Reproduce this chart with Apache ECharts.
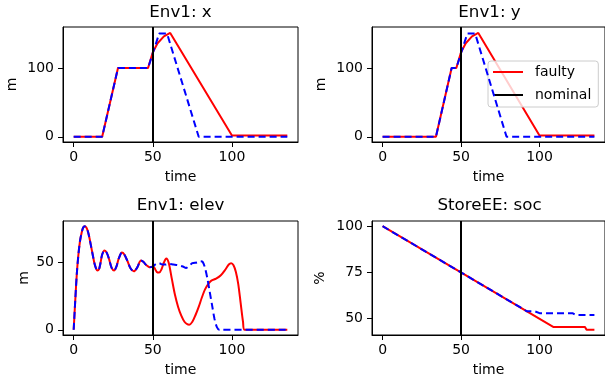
<!DOCTYPE html>
<html>
<head>
<meta charset="utf-8">
<script src="https://cdn.jsdelivr.net/npm/echarts@6/dist/echarts.min.js"></script>
<style>
  html, body { margin: 0; padding: 0; background: #fff; }
  #chart { width: 605px; height: 381px; }
</style>
</head>
<body>
<div id="chart"></div>
<script>
// fault injected at this time
const faultTime = [50];

const xTicks = [0, 50, 100];

// Env1: x
const xFaulty = [[0, 0], [18, 0], [28, 100], [47, 100], [50, 123], [53, 136], [57, 146], [61, 151], [100, 2], [135, 2]];
const xNominal = [[0, 0], [18, 0], [28, 100], [47, 100], [54, 150], [59, 150], [79, 0], [135, 0]];

// Env1: y
const yFaulty = [[0, 0], [34, 0], [44, 100], [47, 100], [50, 123], [53, 136], [57, 146], [61, 151], [100, 2], [135, 2]];
const yNominal = [[0, 0], [34, 0], [44, 100], [47, 100], [54, 150], [59, 150], [79, 0], [135, 0]];

// Env1: elev (shared until the fault)
const elevShared = [[0, 0], [1, 22], [2, 42], [3, 56], [4, 66], [5, 72], [6, 76], [7, 77], [8, 76], [9, 73], [10, 68],
  [11, 62], [12, 56], [13, 50], [14, 46], [15, 44], [16, 45], [17, 50], [18, 56], [19.5, 59], [21, 57], [22.5, 52],
  [24, 46], [25.5, 44], [27, 47], [28.5, 53], [30.5, 57.5], [32, 56], [34, 51], [36, 45.5], [38, 43.5], [40, 46],
  [42.5, 51.5], [44, 50.5], [46, 48], [48, 46.5], [50, 47]];
const elevFaultyTail = [[51, 46], [52.5, 43], [54, 42.5], [55.5, 45], [57, 50], [58.5, 53], [60, 50], [62, 38], [64, 26],
  [66, 17], [68, 10.5], [70, 6], [72, 4], [73, 3.8], [75, 6], [77, 11], [79, 17], [81, 24], [83, 30], [85, 34],
  [87, 36.5], [90, 38], [93, 40.5], [96, 45], [98, 48.5], [99.5, 49.5], [101, 48], [102.5, 43], [104, 34],
  [105.5, 20], [107, 6], [108, 0], [135, 0]];
const elevNominalTail = [[52, 49], [54, 49.5], [56, 48.5], [58, 48.5], [60, 49], [63, 48.5], [66, 48], [69, 47], [71, 46],
  [73, 47.5], [75, 49.5], [78, 50], [80, 51], [81.5, 50.5], [83, 46], [84.5, 38], [86, 28], [87.5, 18], [89, 8],
  [90.5, 2], [92, 0], [135, 0]];

// StoreEE: soc
const socFaulty = [[0, 100], [109, 45.5], [129, 45.5], [130, 44], [135, 44]];
const socNominal = [[0, 100], [92, 54], [97, 54], [100, 53], [121, 53], [123, 52], [135, 52]];

const titles = ['Env1: x', 'Env1: y', 'Env1: elev', 'StoreEE: soc'];
const units = ['m', 'm', 'm', '%'];
const yTicks = [[0, 100], [0, 100], [0, 50], [50, 75, 100]];
const yRanges = [[-7.6, 159.6], [-7.6, 159.6], [-3.85, 80.85], [41.2, 102.8]];
const faultyData = [xFaulty, yFaulty, elevShared.concat(elevFaultyTail), socFaulty];
const nominalData = [xNominal, yNominal, elevShared.concat(elevNominalTail), socNominal];

const font = 'DejaVu Sans';
const grids = [
  { left: 63, top: 27, width: 235, height: 115 },
  { left: 372, top: 27, width: 235, height: 115 },
  { left: 63, top: 221, width: 235, height: 114 },
  { left: 372, top: 221, width: 235, height: 114 }
];
const nameGaps = [44, 44, 32, 45];
const titleTops = [4, 4, 197, 197];

const chart = echarts.init(document.getElementById('chart'), null, { renderer: 'canvas' });

const axisCommon = {
  axisLine: { show: true, onZero: false, lineStyle: { color: '#000', width: 1 } },
  axisTick: { show: true, length: 5, lineStyle: { color: '#000', width: 1 } },
  axisLabel: { color: '#000', fontFamily: font, fontSize: 14 },
  splitLine: { show: false }
};

chart.setOption({
  animation: false,
  backgroundColor: '#fff',
  title: titles.map((t, i) => ({
    text: t,
    left: grids[i].left + 117.5,
    textAlign: 'center',
    top: titleTops[i],
    padding: 0,
    textStyle: { fontFamily: font, fontSize: 16.7, fontWeight: 'normal', color: '#000' }
  })),
  legend: {
    data: [
      { name: 'faulty', icon: 'rect' },
      { name: 'nominal', icon: 'rect' }
    ],
    orient: 'vertical',
    left: 488,
    top: 61,
    padding: [4, 7, 5, 5],
    itemGap: 9,
    itemWidth: 30,
    itemHeight: 2,
    backgroundColor: 'rgba(255,255,255,0.8)',
    borderColor: '#cccccc',
    borderWidth: 1,
    borderRadius: 3,
    textStyle: { fontFamily: font, fontSize: 14, color: '#000', padding: [0, 0, 0, 7] },
    selectedMode: false
  },
  grid: grids.map((g) => ({ ...g, show: true, borderColor: '#000', borderWidth: 1, backgroundColor: 'transparent' })),
  xAxis: grids.map((g, i) => ({
    type: 'value',
    gridIndex: i,
    min: -6.75,
    max: 141.75,
    name: 'time',
    nameLocation: 'middle',
    nameGap: 28,
    nameTextStyle: { fontFamily: font, fontSize: 14, color: '#000' },
    ...axisCommon,
    axisTick: { ...axisCommon.axisTick, customValues: xTicks },
    axisLabel: { ...axisCommon.axisLabel, margin: 8, customValues: xTicks }
  })),
  yAxis: grids.map((g, i) => ({
    type: 'value',
    gridIndex: i,
    min: yRanges[i][0],
    max: yRanges[i][1],
    name: units[i],
    nameLocation: 'middle',
    nameGap: nameGaps[i],
    nameTextStyle: { fontFamily: font, fontSize: 14, color: '#000' },
    ...axisCommon,
    axisTick: { ...axisCommon.axisTick, customValues: yTicks[i] },
    axisLabel: { ...axisCommon.axisLabel, margin: 9, customValues: yTicks[i] }
  })),
  series: grids.flatMap((g, i) => [
    {
      name: 'faulty',
      type: 'line',
      xAxisIndex: i,
      yAxisIndex: i,
      data: faultyData[i],
      smooth: i === 2 ? 0.3 : false,
      showSymbol: false,
      color: '#ff0000',
      lineStyle: { color: '#ff0000', width: 2 },
      z: 3
    },
    {
      name: 'nominal run',
      type: 'line',
      xAxisIndex: i,
      yAxisIndex: i,
      data: nominalData[i],
      smooth: i === 2 ? 0.3 : false,
      showSymbol: false,
      color: '#0000ff',
      lineStyle: { color: '#0000ff', width: 2, type: [7, 4] },
      z: 4
    },
    {
      name: 'nominal',
      type: 'line',
      xAxisIndex: i,
      yAxisIndex: i,
      data: [],
      color: '#000',
      lineStyle: { color: '#000', width: 2 },
      markLine: {
        silent: true,
        symbol: 'none',
        label: { show: false },
        lineStyle: { color: '#000', width: 2, type: 'solid' },
        data: faultTime.map((t) => ({ xAxis: t }))
      },
      z: 5
    }
  ])
});
</script>
</body>
</html>
